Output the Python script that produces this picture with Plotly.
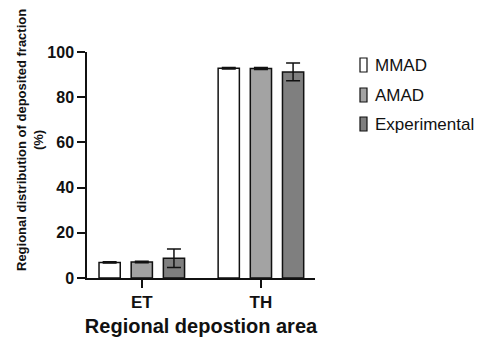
import plotly.graph_objects as go

categories = ["ET", "TH"]
series_names = ["MMAD", "AMAD", "Experimental"]
mmad = [6.9, 92.8]
mmad_err = [0.3, 0.3]
amad = [7.1, 92.7]
amad_err = [0.3, 0.4]
experimental = [8.7, 91.2]
experimental_err = [4.1, 3.9]
colors = ["#ffffff", "#a3a3a3", "#7f7f7f"]

FONT = "Liberation Sans, Arial, sans-serif"
W, H = 488, 342
L, R, T, B = 87, 173, 52, 64
PW, PH = W - L - R, H - T - B


def px(x):
    return (x - L) / PW


def py(y):
    return (H - B - y) / PH


fig = go.Figure()
for i, (name, vals, errs) in enumerate(zip(series_names, [mmad, amad, experimental],
                                           [mmad_err, amad_err, experimental_err])):
    fig.add_trace(go.Bar(
        x=categories, y=vals, name=name, showlegend=False,
        marker=dict(color=colors[i], line=dict(color="#111111", width=1.5)),
        error_y=dict(type="data", array=errs, visible=True, color="#111111",
                     thickness=1.5, width=7),
    ))

# custom legend (narrow tall swatches like the reference)
shapes = []
annotations = []
legend_y = [65, 95, 124]
for i, name in enumerate(series_names):
    yc = legend_y[i]
    shapes.append(dict(type="rect", xref="paper", yref="paper",
                       x0=px(360), x1=px(367), y0=py(yc + 7), y1=py(yc - 7),
                       fillcolor=colors[i], line=dict(color="#111111", width=1.2)))
    annotations.append(dict(text=name, xref="paper", yref="paper",
                            x=px(373), y=py(yc), xanchor="left", yanchor="middle",
                            showarrow=False,
                            font=dict(size=17, family=FONT, color="#111111")))

annotations.append(dict(text="Regional distribution of deposited fraction<br>(%)",
                        xref="paper", yref="paper", x=px(30), y=py(140),
                        xanchor="center", yanchor="middle", textangle=-90,
                        showarrow=False,
                        font=dict(size=13, family=FONT, color="#111111", weight="bold")))

fig.update_layout(
    width=W, height=H,
    margin=dict(l=L, r=R, t=T, b=B, autoexpand=False),
    paper_bgcolor="white", plot_bgcolor="white",
    barmode="group", bargap=0.19, bargroupgap=0.34,
    font=dict(family=FONT, color="#111111"),
    showlegend=False,
    shapes=shapes, annotations=annotations,
    xaxis=dict(
        range=[-0.46, 1.454], showline=True, linecolor="#111111", linewidth=1.5,
        ticks="outside", ticklen=8, tickwidth=1.5, tickcolor="#111111",
        tickfont=dict(size=17, family=FONT, weight="bold"),
        title=dict(text="Regional depostion area", font=dict(size=20, family=FONT, weight="bold"),
                   standoff=8),
        showgrid=False, zeroline=False, automargin=False,
    ),
    yaxis=dict(
        range=[0, 100], tickvals=[0, 20, 40, 60, 80, 100],
        showline=True, linecolor="#111111", linewidth=1.5,
        ticks="outside", ticklen=8, tickwidth=1.5, tickcolor="#111111",
        tickfont=dict(size=16, family=FONT, weight="bold"),
        showgrid=False, zeroline=False, automargin=False,
    ),
)

fig.write_html("out.html", config={"displayModeBar": False},
               post_script="document.body.style.margin='0';")
